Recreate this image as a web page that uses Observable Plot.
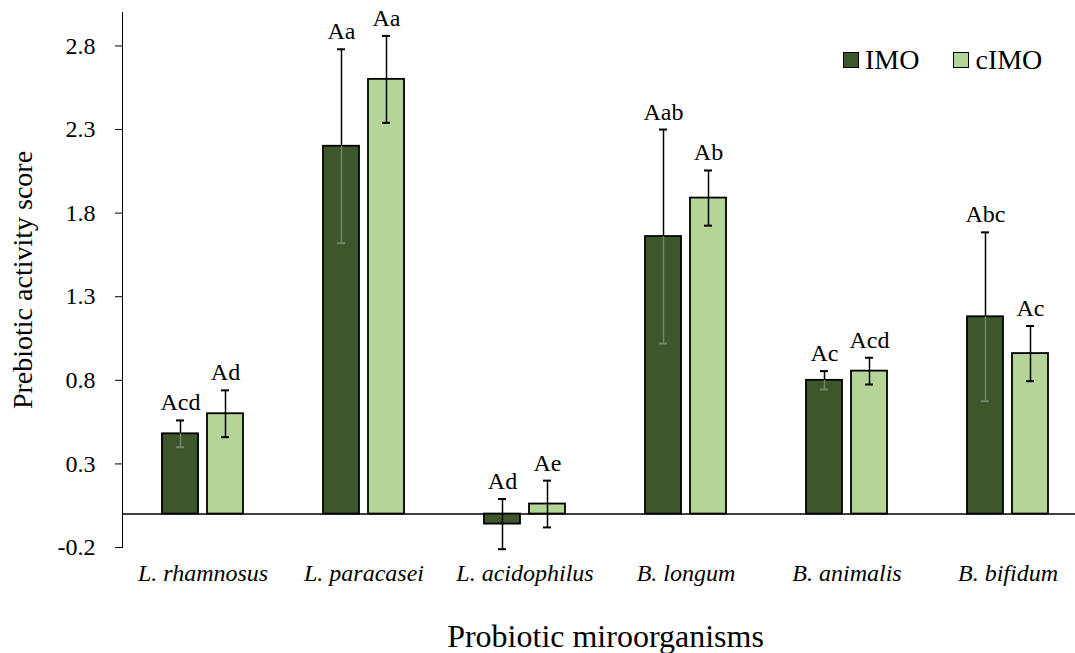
<!DOCTYPE html>
<html>
<head>
<meta charset="utf-8">
<script src="https://cdn.jsdelivr.net/npm/d3@7"></script>
<script src="https://cdn.jsdelivr.net/npm/@observablehq/plot@0.6"></script>
<style>
html, body { margin: 0; padding: 0; background: #fff; overflow: hidden; }
#wrap { position: relative; width: 1075px; height: 653px; }
#legend { position: absolute; left: 843px; top: 43px; display: flex; align-items: center; font-family: "Liberation Serif", serif; font-size: 28px; color: #000; line-height: 34px; }
#legend .sw { width: 14px; height: 14px; border: 1px solid #000; display: inline-block; margin-right: 6px; }
#legend .item { display: flex; align-items: center; margin-right: 34px; }
g[aria-label="fx-axis tick label"] { font-style: italic; }
g[aria-label="y-axis label"] { font-size: 28px; }
g[aria-label="fx-axis label"] { font-size: 32px; }
</style>
</head>
<body>
<div id="wrap"><div id="chart"></div><div id="legend"></div></div>
<script>
const categories = ["L. rhamnosus", "L. paracasei", "L. acidophilus", "B. longum", "B. animalis", "B. bifidum"];
const series = ["IMO", "cIMO"];
const colors = ["#3e562c", "#b4d498"];
const imo = [0.48, 2.20, -0.06, 1.66, 0.80, 1.18];
const imoErr = [0.08, 0.58, 0.15, 0.64, 0.055, 0.505];
const cimo = [0.60, 2.60, 0.06, 1.89, 0.855, 0.96];
const cimoErr = [0.14, 0.26, 0.14, 0.165, 0.08, 0.165];
const imoLetters = ["Acd", "Aa", "Ad", "Aab", "Ac", "Abc"];
const cimoLetters = ["Ad", "Aa", "Ae", "Ab", "Acd", "Ac"];
const yTicks = [-0.2, 0.3, 0.8, 1.3, 1.8, 2.3, 2.8];

const rows = categories.flatMap((c, i) => [
  {category: c, series: series[0], value: imo[i], err: imoErr[i], letter: imoLetters[i]},
  {category: c, series: series[1], value: cimo[i], err: cimoErr[i], letter: cimoLetters[i]}
]);

// error line portion drawn inside the dark bars looks grey in the reference
const innerStroke = d => (d.series === series[0] && d.value > 0) ? "#71866a" : "#000";

const chart = Plot.plot({
  width: 1075,
  height: 653,
  marginTop: 12,
  marginBottom: 106,
  marginLeft: 120,
  marginRight: 0,
  style: {fontFamily: "Liberation Serif, serif", fontSize: "24px", color: "#000", background: "#fff"},
  fx: {domain: categories, range: [120, 1089], padding: 0, label: "Probiotic miroorganisms", labelAnchor: "center", labelOffset: 99, tickSize: 0, tickPadding: 16},
  x: {domain: series, paddingInner: 0.196, paddingOuter: 0.853, axis: null},
  y: {domain: [-0.2, 3.0], ticks: yTicks, tickFormat: d => d.toFixed(1), tickSize: 7, tickPadding: 20, line: true,
      label: "Prebiotic activity score", labelAnchor: "center", labelOffset: 110, labelArrow: "none"},
  color: {domain: series, range: colors},
  marks: [
    Plot.ruleY([0], {stroke: "#000", strokeWidth: 1.5}),
    Plot.barY(rows, {fx: "category", x: "series", y: "value", fill: "series", stroke: "#000", strokeWidth: 1.8}),
    Plot.ruleX(rows, {fx: "category", x: "series", y1: "value", y2: d => d.value + d.err, stroke: "#000", strokeWidth: 1.5}),
    Plot.ruleX(rows, {fx: "category", x: "series", y1: d => d.value - d.err, y2: "value", stroke: innerStroke, strokeWidth: 1.5}),
    Plot.tickY(rows, {fx: "category", x: "series", y: d => d.value + d.err, inset: 14, stroke: "#000", strokeWidth: 2}),
    Plot.tickY(rows, {fx: "category", x: "series", y: d => d.value - d.err, inset: 14, stroke: innerStroke, strokeWidth: 2}),
    Plot.text(rows, {fx: "category", x: "series", y: d => d.value + d.err, text: "letter", lineAnchor: "bottom", dy: -10, fill: "#000", fontSize: 24})
  ]
});
document.getElementById("chart").appendChild(chart);

const legend = document.getElementById("legend");
series.forEach((s, i) => {
  const item = document.createElement("div");
  item.className = "item";
  const sw = document.createElement("span");
  sw.className = "sw";
  sw.style.background = colors[i];
  const t = document.createElement("span");
  t.textContent = s;
  item.appendChild(sw);
  item.appendChild(t);
  legend.appendChild(item);
});
</script>
</body>
</html>
